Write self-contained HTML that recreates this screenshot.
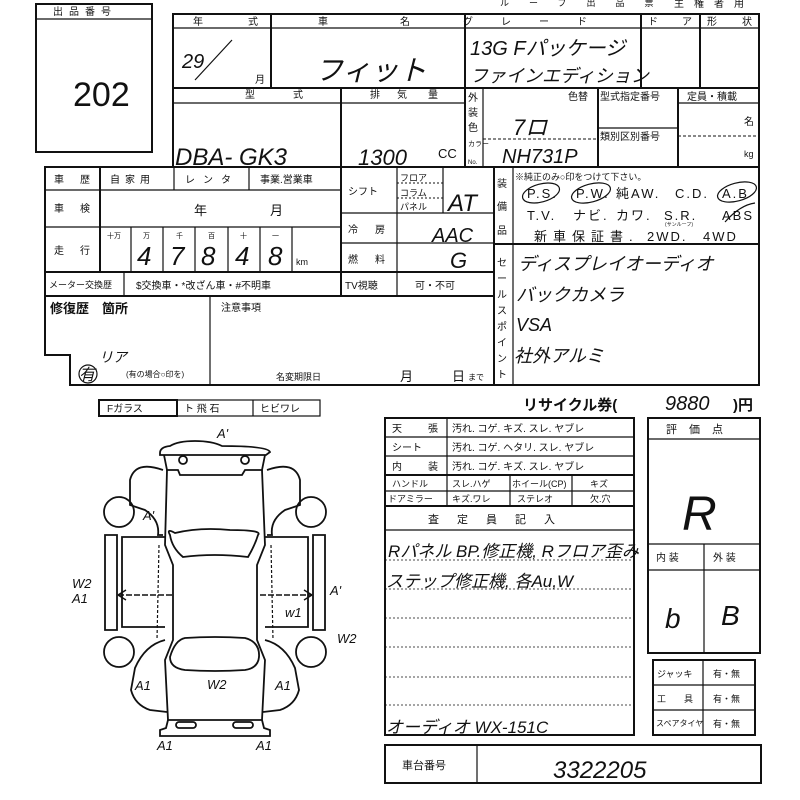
<!DOCTYPE html>
<html><head><meta charset="utf-8"><style>
html,body{margin:0;padding:0;background:#fff;}
svg{display:block;}
text{font-family:"Liberation Sans","Noto Sans CJK JP",sans-serif;fill:#111;}
.h{font-family:"Liberation Sans","Noto Sans CJK JP",sans-serif;font-style:italic;}
</style></head><body>
<svg width="800" height="800" viewBox="0 0 800 800" xmlns="http://www.w3.org/2000/svg">
<g stroke="#111" stroke-width="2" fill="none">
<rect x="36" y="4" width="116" height="148"/>
<line x1="36" y1="19" x2="152" y2="19" stroke-width="1.2"/>
<rect x="173" y="14" width="586" height="153"/>
<line x1="173" y1="28" x2="759" y2="28" stroke-width="1.2"/>
<line x1="173" y1="88" x2="759" y2="88"/>
<line x1="173" y1="103" x2="465" y2="103" stroke-width="1.2"/>
<line x1="271" y1="14" x2="271" y2="88"/>
<line x1="465" y1="14" x2="465" y2="167"/>
<line x1="641" y1="14" x2="641" y2="88"/>
<line x1="700" y1="14" x2="700" y2="88"/>
<line x1="341" y1="88" x2="341" y2="167"/>
<line x1="483" y1="88" x2="483" y2="167" stroke-width="1.2"/>
<line x1="598" y1="88" x2="598" y2="167"/>
<line x1="678" y1="88" x2="678" y2="167"/>
<line x1="598" y1="128" x2="678" y2="128" stroke-width="1.2"/>
<line x1="678" y1="103" x2="759" y2="103" stroke-width="1.2"/>
<line x1="483" y1="139" x2="598" y2="139" stroke-width="1" stroke-dasharray="3,2"/>
<line x1="678" y1="136" x2="759" y2="136" stroke-width="1" stroke-dasharray="3,2"/>
<rect x="45" y="167" width="449" height="129"/>
<line x1="45" y1="190" x2="341" y2="190" stroke-width="1.2"/>
<line x1="45" y1="227" x2="341" y2="227" stroke-width="1.2"/>
<line x1="45" y1="272" x2="494" y2="272"/>
<line x1="100" y1="167" x2="100" y2="272"/>
<line x1="174" y1="167" x2="174" y2="190" stroke-width="1.2"/>
<line x1="249" y1="167" x2="249" y2="190" stroke-width="1.2"/>
<line x1="341" y1="167" x2="341" y2="296"/>
<g stroke-width="1.2"><line x1="131" y1="227" x2="131" y2="272"/><line x1="163" y1="227" x2="163" y2="272"/><line x1="195" y1="227" x2="195" y2="272"/><line x1="228" y1="227" x2="228" y2="272"/><line x1="260" y1="227" x2="260" y2="272"/><line x1="292" y1="227" x2="292" y2="272"/></g>
<line x1="124" y1="272" x2="124" y2="296" stroke-width="1.2"/>
<line x1="341" y1="213" x2="494" y2="213" stroke-width="1.2"/>
<line x1="341" y1="243" x2="494" y2="243" stroke-width="1.2"/>
<line x1="397" y1="167" x2="397" y2="296" stroke-width="1.2"/>
<line x1="443" y1="167" x2="443" y2="213" stroke-width="1.2"/>
<line x1="397" y1="183" x2="443" y2="183" stroke-width="1" stroke-dasharray="2,2"/>
<line x1="397" y1="198" x2="443" y2="198" stroke-width="1" stroke-dasharray="2,2"/>
<rect x="494" y="167" width="265" height="218"/>
<line x1="494" y1="244" x2="759" y2="244"/>
<line x1="513" y1="167" x2="513" y2="385" stroke-width="1.2"/>
<path d="M45 296 V355 H70 V385 H494"/>
<line x1="210" y1="296" x2="210" y2="385" stroke-width="1.2"/>
<rect x="99" y="400" width="221" height="16" stroke-width="1.2"/>
<rect x="99" y="400" width="78" height="16" stroke-width="2"/>
<line x1="253" y1="400" x2="253" y2="416" stroke-width="1.2"/>
<rect x="385" y="418" width="249" height="317"/>
<g stroke-width="1.2"><line x1="385" y1="437" x2="634" y2="437"/><line x1="385" y1="456" x2="634" y2="456"/><line x1="385" y1="491" x2="634" y2="491"/></g>
<line x1="385" y1="475" x2="634" y2="475"/>
<line x1="385" y1="506" x2="634" y2="506"/>
<line x1="385" y1="530" x2="634" y2="530" stroke-width="1.2"/>
<line x1="447" y1="418" x2="447" y2="506" stroke-width="1.2"/>
<line x1="510" y1="475" x2="510" y2="506" stroke-width="1.2"/>
<line x1="572" y1="475" x2="572" y2="506" stroke-width="1.2"/>
<g stroke-width="0.8" stroke-dasharray="2,2"><line x1="385" y1="560" x2="634" y2="560"/><line x1="385" y1="589" x2="634" y2="589"/><line x1="385" y1="618" x2="634" y2="618"/><line x1="385" y1="647" x2="634" y2="647"/><line x1="385" y1="677" x2="634" y2="677"/><line x1="385" y1="705" x2="634" y2="705"/></g>
<rect x="648" y="418" width="112" height="235"/>
<line x1="648" y1="439" x2="760" y2="439" stroke-width="1.2"/>
<line x1="648" y1="544" x2="760" y2="544" stroke-width="1.2"/>
<line x1="648" y1="570" x2="760" y2="570" stroke-width="1.2"/>
<line x1="704" y1="544" x2="704" y2="653" stroke-width="1.2"/>
<rect x="653" y="660" width="102" height="75"/>
<line x1="653" y1="685" x2="755" y2="685" stroke-width="1.2"/>
<line x1="653" y1="710" x2="755" y2="710" stroke-width="1.2"/>
<line x1="703" y1="660" x2="703" y2="735" stroke-width="1.2"/>
<rect x="385" y="745" width="376" height="38"/>
<line x1="477" y1="745" x2="477" y2="783" stroke-width="1.2"/>
</g>

<g stroke="#111" stroke-width="1.8" fill="none">
<path d="M160 453 Q160 447 170 446 Q178 441 195 441 Q212 441 222 446 Q268 446 270 452 L266 455 L160 455 Z"/>
<path d="M164 455 L167 470 L178 470 L180 475 L242 475 L245 470 L262 470 L265 455"/>
<circle cx="183" cy="460" r="4"/><circle cx="245" cy="460" r="4"/>
<path d="M167 470 L165 545 L173 565 L173 640 L165 660 L168 720 L262 720 L265 660 L257 640 L257 565 L265 545 L262 470"/>
<path d="M170 535 Q166 528 175 533 Q200 527 230 530 Q263 530 258 535 Q255 545 248 557 Q214 553 183 557 Q172 548 170 535 Z"/>
<path d="M170 657 Q175 640 185 638 Q215 636 245 638 Q260 642 259 657 Q258 668 245 670 Q215 672 185 670 Q170 668 170 657 Z"/>
<path d="M168 720 L166 728 L160 730 L160 736 L270 736 L270 730 L264 728 L262 720"/>
<rect x="176" y="722" width="20" height="6" rx="3"/><rect x="233" y="722" width="20" height="6" rx="3"/>
<path d="M163 470 Q135 460 130 480 L130 505 L145 510 Q160 520 158 535 L163 535"/>
<path d="M267 470 Q295 460 300 480 L300 505 L285 510 Q270 520 272 535 L267 535"/>
<circle cx="119" cy="512" r="15"/><circle cx="311" cy="512" r="15"/>
<path d="M165 537 L122 537 L122 627 L165 627"/>
<path d="M105 535 L117 535 L117 630 L105 630 Z"/>
<path d="M265 537 L308 537 L308 627 L265 627"/>
<path d="M313 535 L325 535 L325 630 L313 630 Z"/>
<circle cx="119" cy="652" r="15"/><circle cx="311" cy="652" r="15"/>
<path d="M165 640 Q145 645 135 668 L131 690 Q135 705 150 710 L167 712"/>
<path d="M265 640 Q285 645 295 668 L299 690 Q295 705 280 710 L263 712"/>
<path d="M159 545 L157 640" stroke-dasharray="3,2" stroke-width="1.2"/>
<path d="M271 545 L273 640" stroke-dasharray="3,2" stroke-width="1.2"/>
<path d="M118 595 L172 595 M260 595 L312 595" stroke-width="1.4" stroke-dasharray="6,2"/>
<path d="M118 595 L126 590 M118 595 L126 600 M312 595 L304 590 M312 595 L304 600" stroke-width="1.4"/>
</g>
<g class="h" font-size="13">
<text x="217" y="438">A'</text>
<text x="143" y="520">A'</text>
<text x="72" y="588">W2</text><text x="72" y="603">A1</text>
<text x="330" y="595">A'</text>
<text x="285" y="617">w1</text>
<text x="337" y="643">W2</text>
<text x="135" y="690">A1</text>
<text x="207" y="689">W2</text>
<text x="275" y="690">A1</text>
<text x="157" y="750">A1</text>
<text x="256" y="750">A1</text>
</g>

<g font-size="10">
<text x="53" y="15" letter-spacing="6">出品番号</text>
<text x="193" y="25">年</text><text x="248" y="25">式</text>
<text x="318" y="25">車</text><text x="400" y="25">名</text>
<text x="463" y="25" letter-spacing="28">グレード</text>
<text x="648" y="25">ド</text><text x="682" y="25">ア</text><text x="707" y="25">形</text><text x="742" y="25">状</text>
<text x="245" y="98">型</text><text x="293" y="98">式</text>
<text x="370" y="98">排</text><text x="397" y="98">気</text><text x="428" y="98">量</text>
<text x="568" y="100">色替</text>
<text x="600" y="100">型式指定番号</text>
<text x="600" y="140">類別区別番号</text>
<text x="687" y="100">定員・積載</text>
<text x="744" y="125">名</text>
<text x="744" y="157" font-size="9">kg</text>
<text x="468" y="101">外</text><text x="468" y="116">装</text><text x="468" y="131">色</text>
<text x="468" y="146" font-size="7">カラー</text><text x="468" y="164" font-size="6">No.</text>
<text x="255" y="83">月</text>
<text x="438" y="158" font-size="13">CC</text>
<text x="54" y="183">車</text><text x="80" y="183">歴</text>
<text x="110" y="183" letter-spacing="5">自家用</text>
<text x="185" y="183" letter-spacing="8">レンタ</text>
<text x="260" y="183">事業.営業車</text>
<text x="54" y="212">車</text><text x="80" y="212">検</text>
<text x="194" y="215" font-size="13">年</text><text x="270" y="215" font-size="13">月</text>
<text x="54" y="254">走</text><text x="80" y="254">行</text>
<text x="107" y="238" font-size="7">十万</text><text x="143" y="238" font-size="7">万</text><text x="176" y="238" font-size="7">千</text><text x="208" y="238" font-size="7">百</text><text x="240" y="238" font-size="7">十</text><text x="272" y="238" font-size="7">一</text>
<text x="296" y="265" font-size="9">km</text>
<text x="49" y="288" font-size="9">メーター交換歴</text>
<text x="136" y="289">$交換車・*改ざん車・#不明車</text>
<text x="348" y="195">シフト</text>
<text x="400" y="181" font-size="9">フロア</text><text x="400" y="196" font-size="9">コラム</text><text x="400" y="210" font-size="9">パネル</text>
<text x="348" y="233">冷</text><text x="375" y="233">房</text>
<text x="348" y="263">燃</text><text x="375" y="263">料</text>
<text x="345" y="289">TV視聴</text>
<text x="415" y="289">可・不可</text>
<text x="497" y="187">装</text><text x="497" y="210">備</text><text x="497" y="234">品</text>
<text x="515" y="180" font-size="9">※純正のみ○印をつけて下さい。</text>
<g font-size="13" letter-spacing="2">
<text x="527" y="198">P.S.</text><text x="576" y="198">P.W.</text><text x="616" y="198">純AW.</text><text x="675" y="198">C.D.</text><text x="722" y="198">A.B</text>
<text x="527" y="220">T.V.</text><text x="573" y="220">ナビ.</text><text x="616" y="220">カワ.</text><text x="664" y="220">S.R.</text><text x="722" y="220">ABS</text>
<text x="534" y="241" letter-spacing="6">新車保証書.</text><text x="647" y="241">2WD.</text><text x="703" y="241">4WD</text>
</g>
<text x="665" y="226" font-size="5">(サンルーフ)</text>
<text x="497" y="266">セ</text><text x="497" y="282">ー</text><text x="497" y="298">ル</text><text x="497" y="314">ス</text><text x="497" y="330">ポ</text><text x="497" y="346">イ</text><text x="497" y="362">ン</text><text x="497" y="378">ト</text>
<text x="50" y="313" font-size="13" font-weight="bold">修復歴　箇所</text>
<text x="221" y="311">注意事項</text>
<text x="126" y="377" font-size="8">(有の場合○印を)</text>
<text x="276" y="380" font-size="9">名変期限日</text>
<text x="400" y="381" font-size="13">月</text><text x="452" y="381" font-size="13">日</text><text x="468" y="380" font-size="8">まで</text>
<text x="107" y="412">Fガラス</text><text x="184" y="412">ト 飛 石</text><text x="260" y="412">ヒビワレ</text>
<text x="523" y="410" font-size="15" font-weight="bold">リサイクル券(</text>
<text x="733" y="410" font-size="15" font-weight="bold">)円</text>
<text x="392" y="432">天</text><text x="428" y="432">張</text><text x="452" y="432">汚れ. コゲ. キズ. スレ. ヤブレ</text>
<text x="392" y="451">シート</text><text x="452" y="451">汚れ. コゲ. ヘタリ. スレ. ヤブレ</text>
<text x="392" y="470">内</text><text x="428" y="470">装</text><text x="452" y="470">汚れ. コゲ. キズ. スレ. ヤブレ</text>
<text x="392" y="487" font-size="9">ハンドル</text><text x="452" y="487" font-size="9">スレ.ハゲ</text><text x="512" y="487" font-size="9">ホイール(CP)</text><text x="590" y="487" font-size="9">キズ</text>
<text x="388" y="502" font-size="9">ドアミラー</text><text x="452" y="502" font-size="9">キズ.ワレ</text><text x="517" y="502" font-size="9">ステレオ</text><text x="590" y="502" font-size="9">欠.穴</text>
<text x="428" y="523" font-size="11" letter-spacing="18">査定員記入</text>
<text x="666" y="433" font-size="11" letter-spacing="12">評価点</text>
<text x="656" y="561">内 装</text><text x="713" y="561">外 装</text>
<text x="657" y="677" font-size="9">ジャッキ</text><text x="713" y="677" font-size="9">有・無</text>
<text x="657" y="702" font-size="9">工　　具</text><text x="713" y="702" font-size="9">有・無</text>
<text x="656" y="726" font-size="8">スペアタイヤ</text><text x="713" y="727" font-size="9">有・無</text>
<text x="402" y="769" font-size="11">車台番号</text>
<text x="500" y="6" font-size="9" letter-spacing="20">ルーブ出品票</text>
<text x="674" y="7" font-size="10" letter-spacing="10">主権者用</text>
</g>
<text x="73" y="106" font-size="34">202</text>
<g class="h" fill="#111">
<text x="182" y="68" font-size="20">29</text>
<line x1="195" y1="80" x2="232" y2="40" stroke="#111" stroke-width="1.2"/>
<text x="315" y="80" font-size="28">フィット</text>
<text x="470" y="55" font-size="20">13G Fパッケージ</text>
<text x="470" y="82" font-size="18">ファインエディション</text>
<text x="175" y="165" font-size="24">DBA- GK3</text>
<text x="358" y="165" font-size="22">1300</text>
<text x="513" y="135" font-size="22">7ロ</text>
<text x="502" y="163" font-size="20">NH731P</text>
<text x="137" y="265" font-size="26">4</text><text x="170" y="265" font-size="26">7</text><text x="201" y="265" font-size="26">8</text><text x="235" y="265" font-size="26">4</text><text x="268" y="265" font-size="26">8</text>
<text x="448" y="211" font-size="24">AT</text>
<text x="432" y="242" font-size="20">AAC</text>
<text x="450" y="268" font-size="22">G</text>
<text x="518" y="270" font-size="18">ディスプレイオーディオ</text>
<text x="516" y="301" font-size="18">バックカメラ</text>
<text x="516" y="331" font-size="18">VSA</text>
<text x="514" y="362" font-size="18">社外アルミ</text>
<text x="79" y="380" font-size="16">有</text>
<text x="99" y="362" font-size="14">リア</text>
<text x="665" y="410" font-size="20">9880</text>
<text x="682" y="530" font-size="48">R</text>
<text x="665" y="628" font-size="28">b</text>
<text x="721" y="625" font-size="28">B</text>
<text x="388" y="557" font-size="17">Rパネル BP.修正機, Rフロア歪み</text>
<text x="386" y="587" font-size="17">ステップ修正機, 各Au,W</text>
<text x="386" y="733" font-size="17">オーディオ WX-151C</text>
<text x="553" y="778" font-size="24">3322205</text>
</g>
<g stroke="#111" stroke-width="1.2" fill="none">
<ellipse cx="541" cy="193" rx="19" ry="9" transform="rotate(-15 541 193)"/>
<ellipse cx="591" cy="193" rx="20" ry="9" transform="rotate(-15 591 193)"/>
<ellipse cx="737" cy="192" rx="20" ry="9" transform="rotate(-15 737 192)"/>
<path d="M725 222 Q740 205 755 203"/>
<ellipse cx="88" cy="374" rx="9" ry="9"/>
</g>
</svg>
</body></html>
